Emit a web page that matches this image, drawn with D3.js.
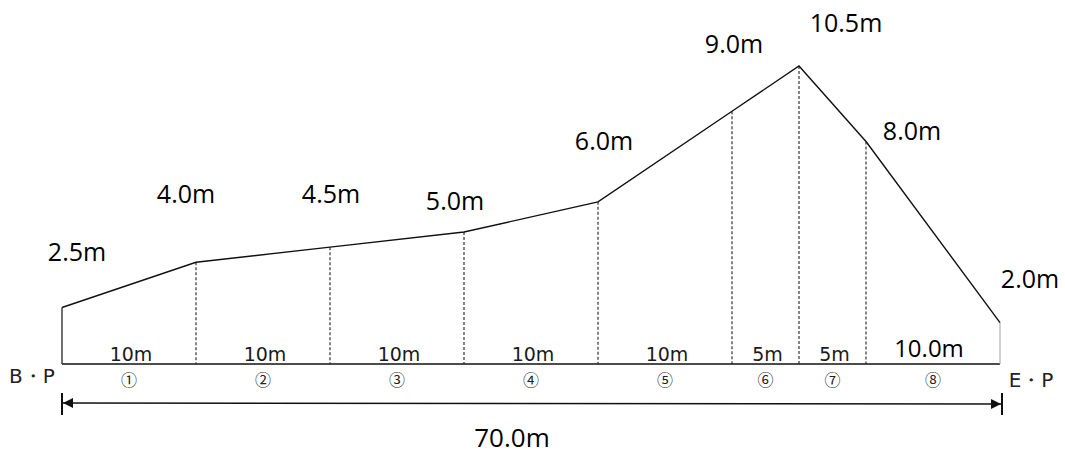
<!DOCTYPE html>
<html>
<head>
<meta charset="utf-8">
<script src="https://cdn.jsdelivr.net/npm/d3@7"></script>
<style>
  body { margin: 0; background: #fff; }
  svg { display: block; }
</style>
</head>
<body>
<svg id="chart"></svg>
<script>
// stations along the section (m) and heights at each (m)
const stations = [0, 10, 20, 30, 40, 50, 55, 60, 70];
const heights = [2.5, 4.0, 4.5, 5.0, 6.0, 9.0, 10.5, 8.0, 2.0];
const heightLabels = ["2.5m", "4.0m", "4.5m", "5.0m", "6.0m", "9.0m", "10.5m", "8.0m", "2.0m"];
const spanLabels = ["10m", "10m", "10m", "10m", "10m", "5m", "5m", "10.0m"];
const spanMarks = ["①", "②", "③", "④", "⑤", "⑥", "⑦", "⑧"];
const totalLabel = "70.0m";

// where each height label sits relative to its point (px)
const labelNudge = [[15, -57], [-10, -69], [1, -54], [-9, -32], [6, -62], [2, -68], [47, -44], [46, -11], [30, -45]];

const width = 1065, height = 461;
const baseY = 364;

const svg = d3.select("#chart").attr("width", width).attr("height", height);
svg.append("rect").attr("width", width).attr("height", height).attr("fill", "#fff");

const x = d3.scaleLinear().domain([0, 70]).range([62, 1000]);
const y = d3.scaleLinear().domain([0, 10.5]).range([383, 66]);

const pts = stations.map((s, i) => ({ s, h: heights[i], label: heightLabels[i], nudge: labelNudge[i] }));

// ground line
svg.append("line")
  .attr("x1", x(0)).attr("x2", x(70))
  .attr("y1", baseY).attr("y2", baseY)
  .attr("stroke", "#111").attr("stroke-width", 1.7);

// verticals
svg.selectAll("line.v")
  .data(pts)
  .enter()
  .append("line")
  .attr("class", "v")
  .attr("x1", d => x(d.s)).attr("x2", d => x(d.s))
  .attr("y1", d => y(d.h)).attr("y2", baseY)
  .attr("stroke", (d, i) => i === pts.length - 1 ? "#aaa" : "#222")
  .attr("stroke-width", (d, i) => i === 0 ? 1.3 : 1.1)
  .attr("stroke-dasharray", (d, i) => (i === 0 || i === pts.length - 1) ? null : "3,2");

// profile
svg.append("path")
  .datum(pts)
  .attr("fill", "none")
  .attr("stroke", "#111")
  .attr("stroke-width", 1.4)
  .attr("d", d3.line().x(d => x(d.s)).y(d => y(d.h)));

// height labels
svg.selectAll("text.h")
  .data(pts)
  .enter()
  .append("text")
  .attr("class", "h")
  .attr("x", d => x(d.s) + d.nudge[0])
  .attr("y", d => y(d.h) + d.nudge[1])
  .attr("text-anchor", "middle")
  .attr("dominant-baseline", "central")
  .style("font-family", "'Open Sans', 'Noto Sans', sans-serif")
  .style("font-size", "25px")
  .attr("fill", "#000")
  .text(d => d.label);

// span lengths and numbers
const spans = d3.range(stations.length - 1).map(i => ({
  mid: (stations[i] + stations[i + 1]) / 2,
  len: spanLabels[i],
  mark: spanMarks[i],
  last: i === stations.length - 2
}));

svg.selectAll("text.len")
  .data(spans)
  .enter()
  .append("text")
  .attr("class", "len")
  .attr("x", d => x(d.mid) + (d.last ? -4 : 2))
  .attr("y", d => baseY - (d.last ? 7 : 3))
  .attr("text-anchor", "middle")
  .style("font-family", d => d.last ? "'Open Sans', sans-serif" : "'DejaVu Sans', sans-serif")
  .style("font-size", d => d.last ? "24px" : "19px")
  .attr("fill", d => d.last ? "#000" : "#1a1a1a")
  .text(d => d.len);

svg.selectAll("text.mark")
  .data(spans)
  .enter()
  .append("text")
  .attr("class", "mark")
  .attr("x", d => x(d.mid))
  .attr("y", baseY + 15)
  .attr("text-anchor", "middle")
  .attr("dominant-baseline", "central")
  .style("font-family", "'Noto Sans CJK JP', sans-serif")
  .style("font-size", "16px")
  .attr("fill", "#222")
  .text(d => d.mark);

// end point names
svg.append("text")
  .attr("x", 32).attr("y", 376)
  .attr("text-anchor", "middle").attr("dominant-baseline", "central")
  .style("font-family", "'DejaVu Sans', sans-serif")
  .style("font-size", "20px").attr("fill", "#222")
  .text("B・P");

svg.append("text")
  .attr("x", 1031).attr("y", 380)
  .attr("text-anchor", "middle").attr("dominant-baseline", "central")
  .style("font-family", "'DejaVu Sans', sans-serif")
  .style("font-size", "20px").attr("fill", "#222")
  .text("E・P");

// total length dimension
const dimY = 403;
svg.append("defs").selectAll("marker")
  .data(["start", "end"])
  .enter()
  .append("marker")
  .attr("id", d => "arr-" + d)
  .attr("viewBox", "0 0 10 10")
  .attr("refX", d => d === "start" ? 0 : 10)
  .attr("refY", 5)
  .attr("markerWidth", 11).attr("markerHeight", 10)
  .attr("markerUnits", "userSpaceOnUse")
  .attr("orient", "auto")
  .append("path")
  .attr("d", d => d === "start" ? "M10,0 L0,5 L10,10 Z" : "M0,0 L10,5 L0,10 Z")
  .attr("fill", "#111");

svg.append("line")
  .attr("x1", x(0) + 1).attr("x2", x(70) + 1)
  .attr("y1", dimY).attr("y2", dimY + 1)
  .attr("stroke", "#111").attr("stroke-width", 1.5)
  .attr("marker-start", "url(#arr-start)")
  .attr("marker-end", "url(#arr-end)");

svg.selectAll("line.tick")
  .data([0, 70])
  .enter()
  .append("line")
  .attr("class", "tick")
  .attr("x1", d => x(d) + (d === 0 ? 0 : 2)).attr("x2", d => x(d) + (d === 0 ? 0 : 2))
  .attr("y1", dimY - 10).attr("y2", dimY + 12)
  .attr("stroke", "#111").attr("stroke-width", 2);

svg.append("text")
  .attr("x", 512).attr("y", 437)
  .attr("text-anchor", "middle").attr("dominant-baseline", "central")
  .style("font-family", "'Open Sans', 'Noto Sans', sans-serif")
  .style("font-size", "26px").attr("fill", "#000")
  .text(totalLabel);
</script>
</body>
</html>
